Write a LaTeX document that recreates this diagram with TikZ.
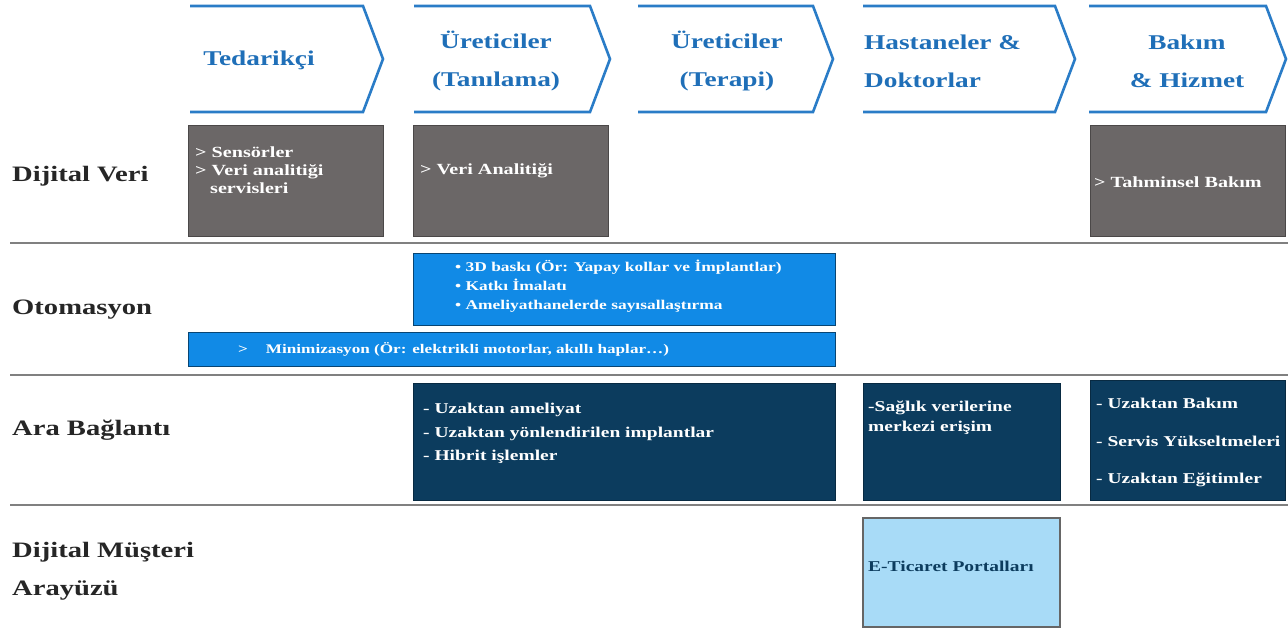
\documentclass[tikz,border=0pt]{standalone}
\usepackage{fontspec}
\setmainfont[FakeStretch=1.3]{Liberation Serif}
\definecolor{chev}{HTML}{2A7CC7}
\definecolor{chevtxt}{HTML}{1F6FB8}
\definecolor{grbox}{HTML}{6B6767}
\definecolor{blbox}{HTML}{118AE6}
\definecolor{nvbox}{HTML}{0C3C5E}
\definecolor{ltbox}{HTML}{A8DBF7}
\definecolor{sep}{HTML}{808080}
\tikzset{
  chevline/.style={draw=chev,line width=2.6pt,line join=miter},
  headtxt/.style={text=chevtxt,font=\bfseries\fontsize{21}{38}\selectfont,align=center,inner sep=0pt},
  rowtxt/.style={text=black!85,font=\bfseries\fontsize{22}{38}\selectfont,align=left,anchor=west,inner sep=0pt},
  sepline/.style={draw=sep,line width=2.6pt},
  graybox/.style={fill=grbox,draw=grbox!70!black,line width=0.8pt},
  bluebox/.style={fill=blbox,draw=blbox!50!black,line width=1pt},
  navybox/.style={fill=nvbox,draw=nvbox!70!black,line width=1pt},
  lightbox/.style={fill=ltbox,draw=black!60,line width=1.2pt},
  boxtxt/.style={text=white,font=\bfseries\fontsize{15}{19}\selectfont,align=left,anchor=north west,inner sep=0pt},
}
\begin{document}
\begin{tikzpicture}[x=1pt,y=-1pt]
\useasboundingbox[fill=white] (0,0) rectangle (1288,633);
% chevrons
\foreach \a/\b in {190/363, 414/590, 638/813, 863/1055, 1089/1266}{
  \draw[chevline] (\a,6) -- (\b,6) -- (\b+20,59) -- (\b,112) -- (\a,112);
}
\node[headtxt] (h1) at (259,60) {Tedarikçi};
\node[headtxt] (h2) at (496,61) {Üreticiler\\(Tanılama)};
\node[headtxt] (h3) at (727,61) {Üreticiler\\(Terapi)};
\node[headtxt,align=left,anchor=west] (h4) at (864,61) {Hastaneler \&\\Doktorlar};
\node[headtxt] (h5) at (1187,61) {Bakım\\\& Hizmet};
% row labels
\node[rowtxt] (r1) at (12,176) {Dijital Veri};
\node[rowtxt] (r2) at (12,310) {Otomasyon};
\node[rowtxt] (r3) at (12,430) {Ara Bağlantı};
\node[rowtxt] (r4) at (12,571) {Dijital Müşteri\\Arayüzü};
% separators
\draw[sepline] (10,243) -- (1288,243);
\draw[sepline] (10,375) -- (1288,375);
\draw[sepline] (10,505) -- (1288,505);
% gray boxes
\draw[graybox] (188,125) rectangle (383,236);
\draw[graybox] (413,125) rectangle (608,236);
\draw[graybox] (1090,125) rectangle (1285,236);
\node[boxtxt,font=\bfseries\fontsize{15.5}{18}\selectfont] (g1) at (195,147) {> Sensörler\\> Veri analitiği\\\hspace*{15pt}servisleri};
\node[boxtxt,font=\bfseries\fontsize{15.5}{18}\selectfont] (g2) at (420,163) {> Veri Analitiği};
\node[boxtxt,font=\bfseries\fontsize{15.5}{18}\selectfont,anchor=west] (g3) at (1094,182) {> Tahminsel Bakım};
% blue boxes
\draw[bluebox] (413,253) rectangle (835,325);
\draw[bluebox] (188,332) rectangle (835,366);
\node[boxtxt,font=\bfseries\fontsize{13.4}{19}\selectfont] (b1) at (455,260) {• 3D baskı (Ör: Yapay kollar ve İmplantlar)\\• Katkı İmalatı\\• Ameliyathanelerde sayısallaştırma};
\node[boxtxt,font=\bfseries\fontsize{13.2}{19}\selectfont,anchor=west] (b2) at (238,349) {>\hspace*{18pt}Minimizasyon (Ör: elektrikli motorlar, akıllı haplar…)};
% navy boxes
\draw[navybox] (413,383) rectangle (835,500);
\draw[navybox] (863,383) rectangle (1060,500);
\draw[navybox] (1090,380) rectangle (1285,500);
\node[boxtxt,font=\bfseries\fontsize{15}{23.5}\selectfont] (n1) at (423,403) {- Uzaktan ameliyat\\- Uzaktan yönlendirilen implantlar\\- Hibrit işlemler};
\node[boxtxt,font=\bfseries\fontsize{15}{20}\selectfont] (n2) at (868,401) {-Sağlık verilerine\\merkezi erişim};
\node[boxtxt,font=\bfseries\fontsize{15}{37.5}\selectfont] (n3) at (1096,398) {- Uzaktan Bakım\\- Servis Yükseltmeleri\\- Uzaktan Eğitimler};
% light box
\draw[lightbox] (863,518) rectangle (1060,627);
\node[boxtxt,text=nvbox,anchor=west] (l1) at (868,566) {E-Ticaret Portalları};
\end{tikzpicture}
\end{document}
